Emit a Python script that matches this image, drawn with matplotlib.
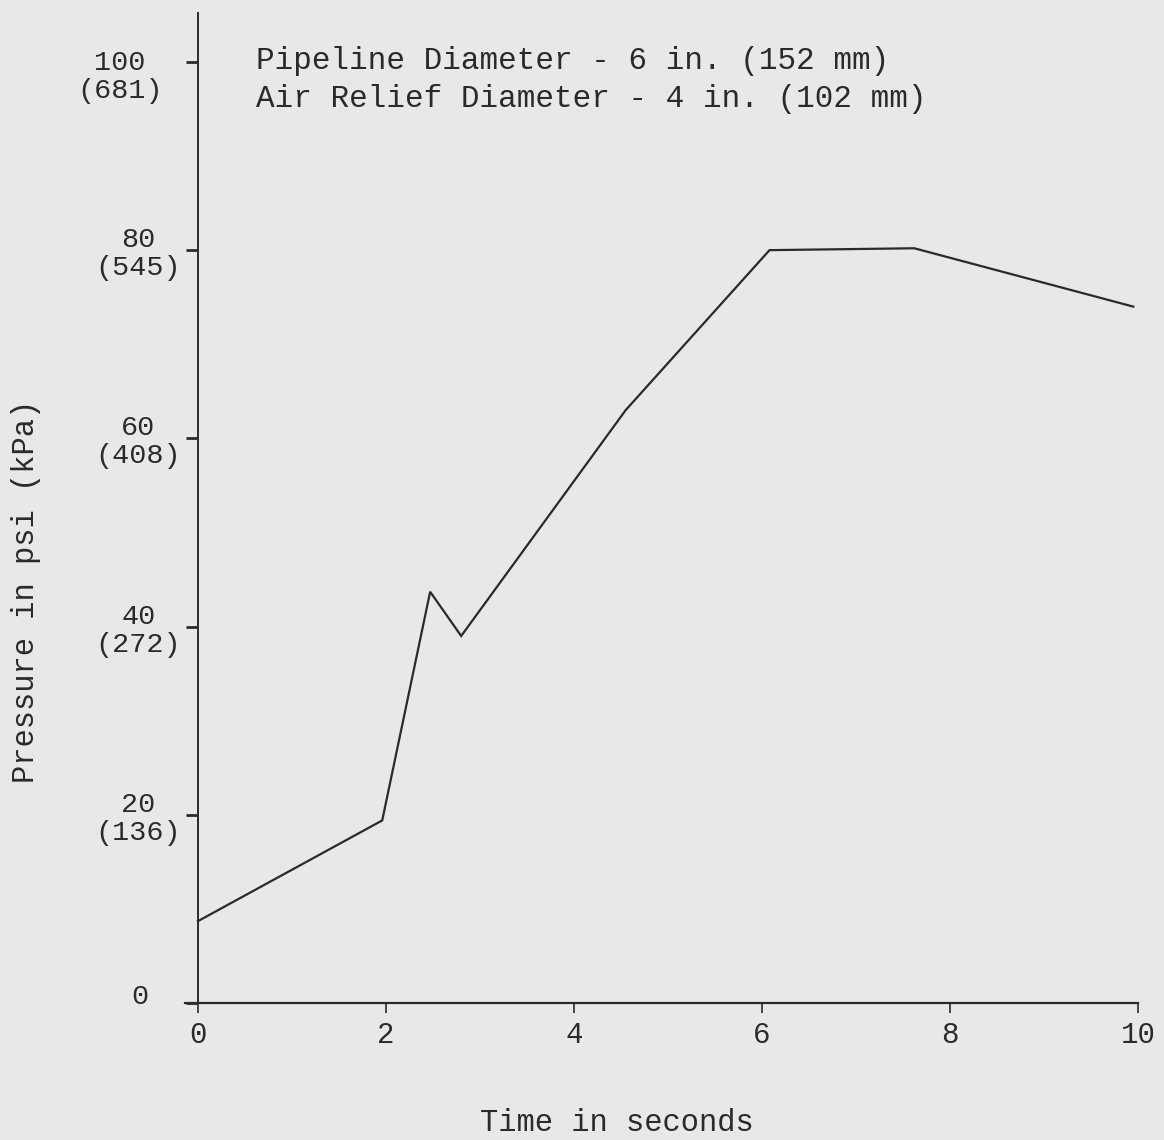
import matplotlib
matplotlib.use('Agg')
import matplotlib.pyplot as plt

# данные
time_s = [0.0, 1.96, 2.47, 2.80, 4.55, 6.08, 7.62, 9.95]
pressure_psi = [8.7, 19.4, 43.7, 39.0, 63.0, 80.0, 80.2, 74.0]

y_ticks = [0, 20, 40, 60, 80, 100]
y_labels = ["0", "20\n(136)", "40\n(272)", "60\n(408)", "80\n(545)", "100\n(681)"]
x_ticks = [0, 2, 4, 6, 8, 10]
x_labels = ["0", "2", "4", "6", "8", "10"]

notes = ["Pipeline Diameter - 6 in. (152 mm)",
         "Air Relief Diameter - 4 in. (102 mm)"]

bg = '#e8e8e6'
ink = '#2a2a2a'
plt.rcParams['font.family'] = ['Liberation Mono', 'DejaVu Sans Mono']

W, H = 1164, 1140
fig = plt.figure(figsize=(W / 100, H / 100), dpi=100, facecolor=bg)
ax = fig.add_axes([185 / W, 1 - 1003 / H, (1138 - 185) / W, (1003 - 13) / H])
ax.set_facecolor(bg)

ax.plot(time_s, pressure_psi, color=ink, lw=1.6, solid_joinstyle='miter')

ax.set_xlim(-0.138, 10)
ax.set_ylim(0, 105.2)

for s in ['top', 'right']:
    ax.spines[s].set_visible(False)
ax.spines['left'].set_position(('data', 0))
ax.spines['left'].set_color(ink)
ax.spines['bottom'].set_color(ink)
ax.spines['left'].set_linewidth(1.4)
ax.spines['bottom'].set_linewidth(1.6)

ax.set_xticks(x_ticks)
ax.set_xticklabels(x_labels, fontsize=21, color=ink)
ax.set_yticks(y_ticks)
# метки 0 и 100 стоят в стороне от остальных, их рисуем отдельно
ax.set_yticklabels([""] + y_labels[1:-1] + [""], fontsize=20.5, color=ink, linespacing=1.1)
for lab in ax.get_yticklabels():
    lab.set_multialignment('center')
fig.text(120 / W, 1 - 77 / H, y_labels[-1], fontsize=20.5, color=ink,
         ha='center', va='center', multialignment='center', linespacing=1.1)
fig.text(140 / W, 1 - 997 / H, y_labels[0], fontsize=20.5, color=ink,
         ha='center', va='center')
ax.tick_params(axis='y', direction='out', length=9, width=2, color=ink, pad=3)
ax.tick_params(axis='x', direction='out', length=7, width=1.2, color=ink, pad=6)

ax.set_xlabel("Time in seconds", fontsize=22, color=ink)
ax.xaxis.set_label_coords((617 - 185) / 953, (1003 - 1108) / 990)
ax.set_ylabel("Pressure in psi (kPa)", fontsize=22, color=ink)
ax.yaxis.set_label_coords((41 - 185) / 953, (1003 - 591) / 990)

fig.text(256 / W, 1 - 61 / H, notes[0], fontsize=22.3, color=ink, ha='left', va='center')
fig.text(256 / W, 1 - 99 / H, notes[1], fontsize=22.3, color=ink, ha='left', va='center')

fig.savefig('out.png', dpi=100, facecolor=bg)
